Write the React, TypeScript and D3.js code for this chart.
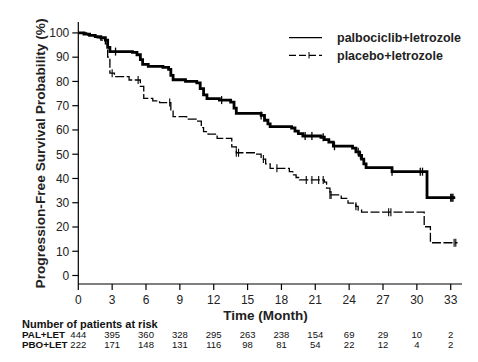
import React from 'react';
import * as d3 from 'd3';

// Kaplan-Meier steps: [month, PFS %]
const palSteps: [number, number][] = [
  [0, 100], [0.5, 99.5], [1.0, 99], [1.5, 98.5], [2.0, 98], [2.4, 97], [2.6, 94], [2.8, 92.3],
  [4.8, 92], [5.2, 91], [5.5, 89], [5.7, 87], [6.2, 86.2], [7.5, 85.8], [8.0, 85], [8.2, 82.5],
  [8.4, 80.7], [9.5, 80], [10.5, 79.4], [10.8, 77], [11.1, 74.5], [11.4, 72.9], [12.5, 72.3],
  [13.5, 71.5], [13.8, 69], [14.0, 66.8], [16.2, 66], [16.5, 64], [16.8, 62.5], [17.0, 61.4],
  [18.9, 60.8], [19.2, 59.5], [19.5, 58.5], [19.9, 57.5], [21.5, 57], [21.8, 56], [22.2, 55],
  [22.6, 53.3], [24.3, 52.5], [24.6, 51], [24.9, 49.5], [25.1, 48], [25.3, 46], [25.5, 44.5],
  [27.8, 42.8], [30.9, 32.1], [33.4, 32.1]
];

const pboSteps: [number, number][] = [
  [0, 100], [0.8, 99], [1.5, 98], [2.0, 97], [2.4, 95.5], [2.6, 90], [2.8, 83.4], [3.2, 82],
  [4.5, 80.6], [5.5, 78], [5.8, 73], [6.6, 72], [7.2, 71.3], [8.2, 68], [8.4, 65.5], [9.6, 64.5],
  [10.5, 63.6], [10.9, 61], [11.1, 59.3], [11.5, 58.3], [12.3, 56.5], [13.6, 53], [14.0, 50.6],
  [15.8, 50], [16.2, 48], [16.6, 46], [17.0, 44.2], [18.7, 42.8], [19.0, 41.5], [19.3, 40.4],
  [19.6, 39.4], [21.8, 38.5], [22.0, 36], [22.3, 33.2], [23.3, 31.8], [23.9, 29.8], [24.6, 28.5],
  [24.8, 27], [25.1, 26.1], [30.65, 20.1], [31.2, 13.5], [33.6, 13.5]
];

// censored observations (months)
const palCensor = [3.3, 12.7, 16.2, 20.1, 20.7, 21.7, 22.7, 24.8, 25.0, 27.8, 30.3, 30.5, 33.0, 33.1, 33.2];
const pboCensor = [3.0, 5.3, 8.1, 14.0, 14.2, 16.4, 17.6, 20.2, 20.7, 21.3, 21.7, 22.3, 22.4, 24.6, 27.5, 27.7, 33.3, 33.45];

const xTicks = [0, 3, 6, 9, 12, 15, 18, 21, 24, 27, 30, 33];
const yTicks = [0, 10, 20, 30, 40, 50, 60, 70, 80, 90, 100];

const palRisk = [444, 395, 360, 328, 295, 263, 238, 154, 69, 29, 10, 2];
const pboRisk = [222, 171, 148, 131, 116, 98, 81, 54, 22, 12, 4, 2];

const FONT = "'Liberation Sans', Arial, sans-serif";

const x = d3.scaleLinear().domain([0, 34]).range([78.3, 462]);
const y = d3.scaleLinear().domain([-3.5, 104.5]).range([284, 22]);

const stepLine = d3.line<[number, number]>()
  .x(d => x(d[0]))
  .y(d => y(d[1]))
  .curve(d3.curveStepAfter);

const survAt = (steps: [number, number][], t: number) => {
  let v = steps[0][1];
  for (const s of steps) if (s[0] <= t) v = s[1];
  return v;
};

const Censors = ({ steps, times, w }: { steps: [number, number][]; times: number[]; w: number }) => (
  <g stroke="#000" strokeWidth={w}>
    {times.map((t, i) => {
      const cx = x(t);
      const cy = y(survAt(steps, t));
      return <line key={i} x1={cx} x2={cx} y1={cy - 4} y2={cy + 4} />;
    })}
  </g>
);

export default function App() {
  const axisY = y.range()[0];
  const axisX = x.range()[0];
  return (
    <svg width={478} height={362} style={{ position: 'absolute', left: 0, top: 0, background: '#fff' }}
      fontFamily={FONT}>
      {/* axes */}
      <line x1={axisX} x2={axisX} y1={y.range()[1]} y2={axisY} stroke="#000" strokeWidth={1.2} />
      <line x1={axisX} x2={x.range()[1]} y1={axisY} y2={axisY} stroke="#000" strokeWidth={1.2} />
      {yTicks.map(t => (
        <g key={'y' + t}>
          <line x1={axisX - 6} x2={axisX} y1={y(t)} y2={y(t)} stroke="#000" strokeWidth={1.2} />
          <text x={axisX - 9} y={y(t)} dy="0.36em" textAnchor="end" fontSize={12} fill="#222">{t}</text>
        </g>
      ))}
      {xTicks.map(t => (
        <g key={'x' + t}>
          <line x1={x(t)} x2={x(t)} y1={axisY} y2={axisY + 6} stroke="#000" strokeWidth={1.2} />
          <text x={x(t)} y={300} dy="0.36em" textAnchor="middle" fontSize={12} fill="#222">{t}</text>
        </g>
      ))}
      <text transform="translate(44.5,153.5) rotate(-90)" textAnchor="middle" fontSize={13}
        textLength={270} lengthAdjust="spacingAndGlyphs"
        fontWeight="bold" fill="#222">Progression-Free Survival Probability (%)</text>
      <text x={265.5} y={320} textAnchor="middle" fontSize={13.5} fontWeight="bold" fill="#222">Time (Month)</text>

      {/* curves */}
      <path d={stepLine(pboSteps) || ''} fill="none" stroke="#000" strokeWidth={1.3} strokeDasharray="9,2.5" />
      <Censors steps={pboSteps} times={pboCensor} w={1.1} />
      <path d={stepLine(palSteps) || ''} fill="none" stroke="#000" strokeWidth={2.8} />
      <Censors steps={palSteps} times={palCensor} w={1.3} />

      {/* legend */}
      <line x1={289} x2={322} y1={37.7} y2={37.7} stroke="#000" strokeWidth={1.3} />
      <text x={337} y={42} fontSize={12.5} fontWeight="bold" fill="#222">palbociclib+letrozole</text>
      <line x1={289} x2={322} y1={55.3} y2={55.3} stroke="#000" strokeWidth={1.3} strokeDasharray="7,3" />
      <line x1={309} x2={309} y1={52} y2={58.5} stroke="#000" strokeWidth={1} />
      <text x={337} y={60} fontSize={12.5} fontWeight="bold" fill="#222">placebo+letrozole</text>

      {/* number at risk */}
      <text x={22} y={328} fontSize={11} fontWeight="bold" fill="#111">Number of patients at risk</text>
      <text x={22} y={338} fontSize={9.8} fontWeight="bold" fill="#111">PAL+LET</text>
      <text x={22} y={348} fontSize={9.8} fontWeight="bold" fill="#111">PBO+LET</text>
      {xTicks.map((t, i) => (
        <g key={'r' + t} fontSize={9.5} fill="#111" textAnchor="middle">
          <text x={x(t)} y={338}>{palRisk[i]}</text>
          <text x={x(t)} y={348}>{pboRisk[i]}</text>
        </g>
      ))}
    </svg>
  );
}
